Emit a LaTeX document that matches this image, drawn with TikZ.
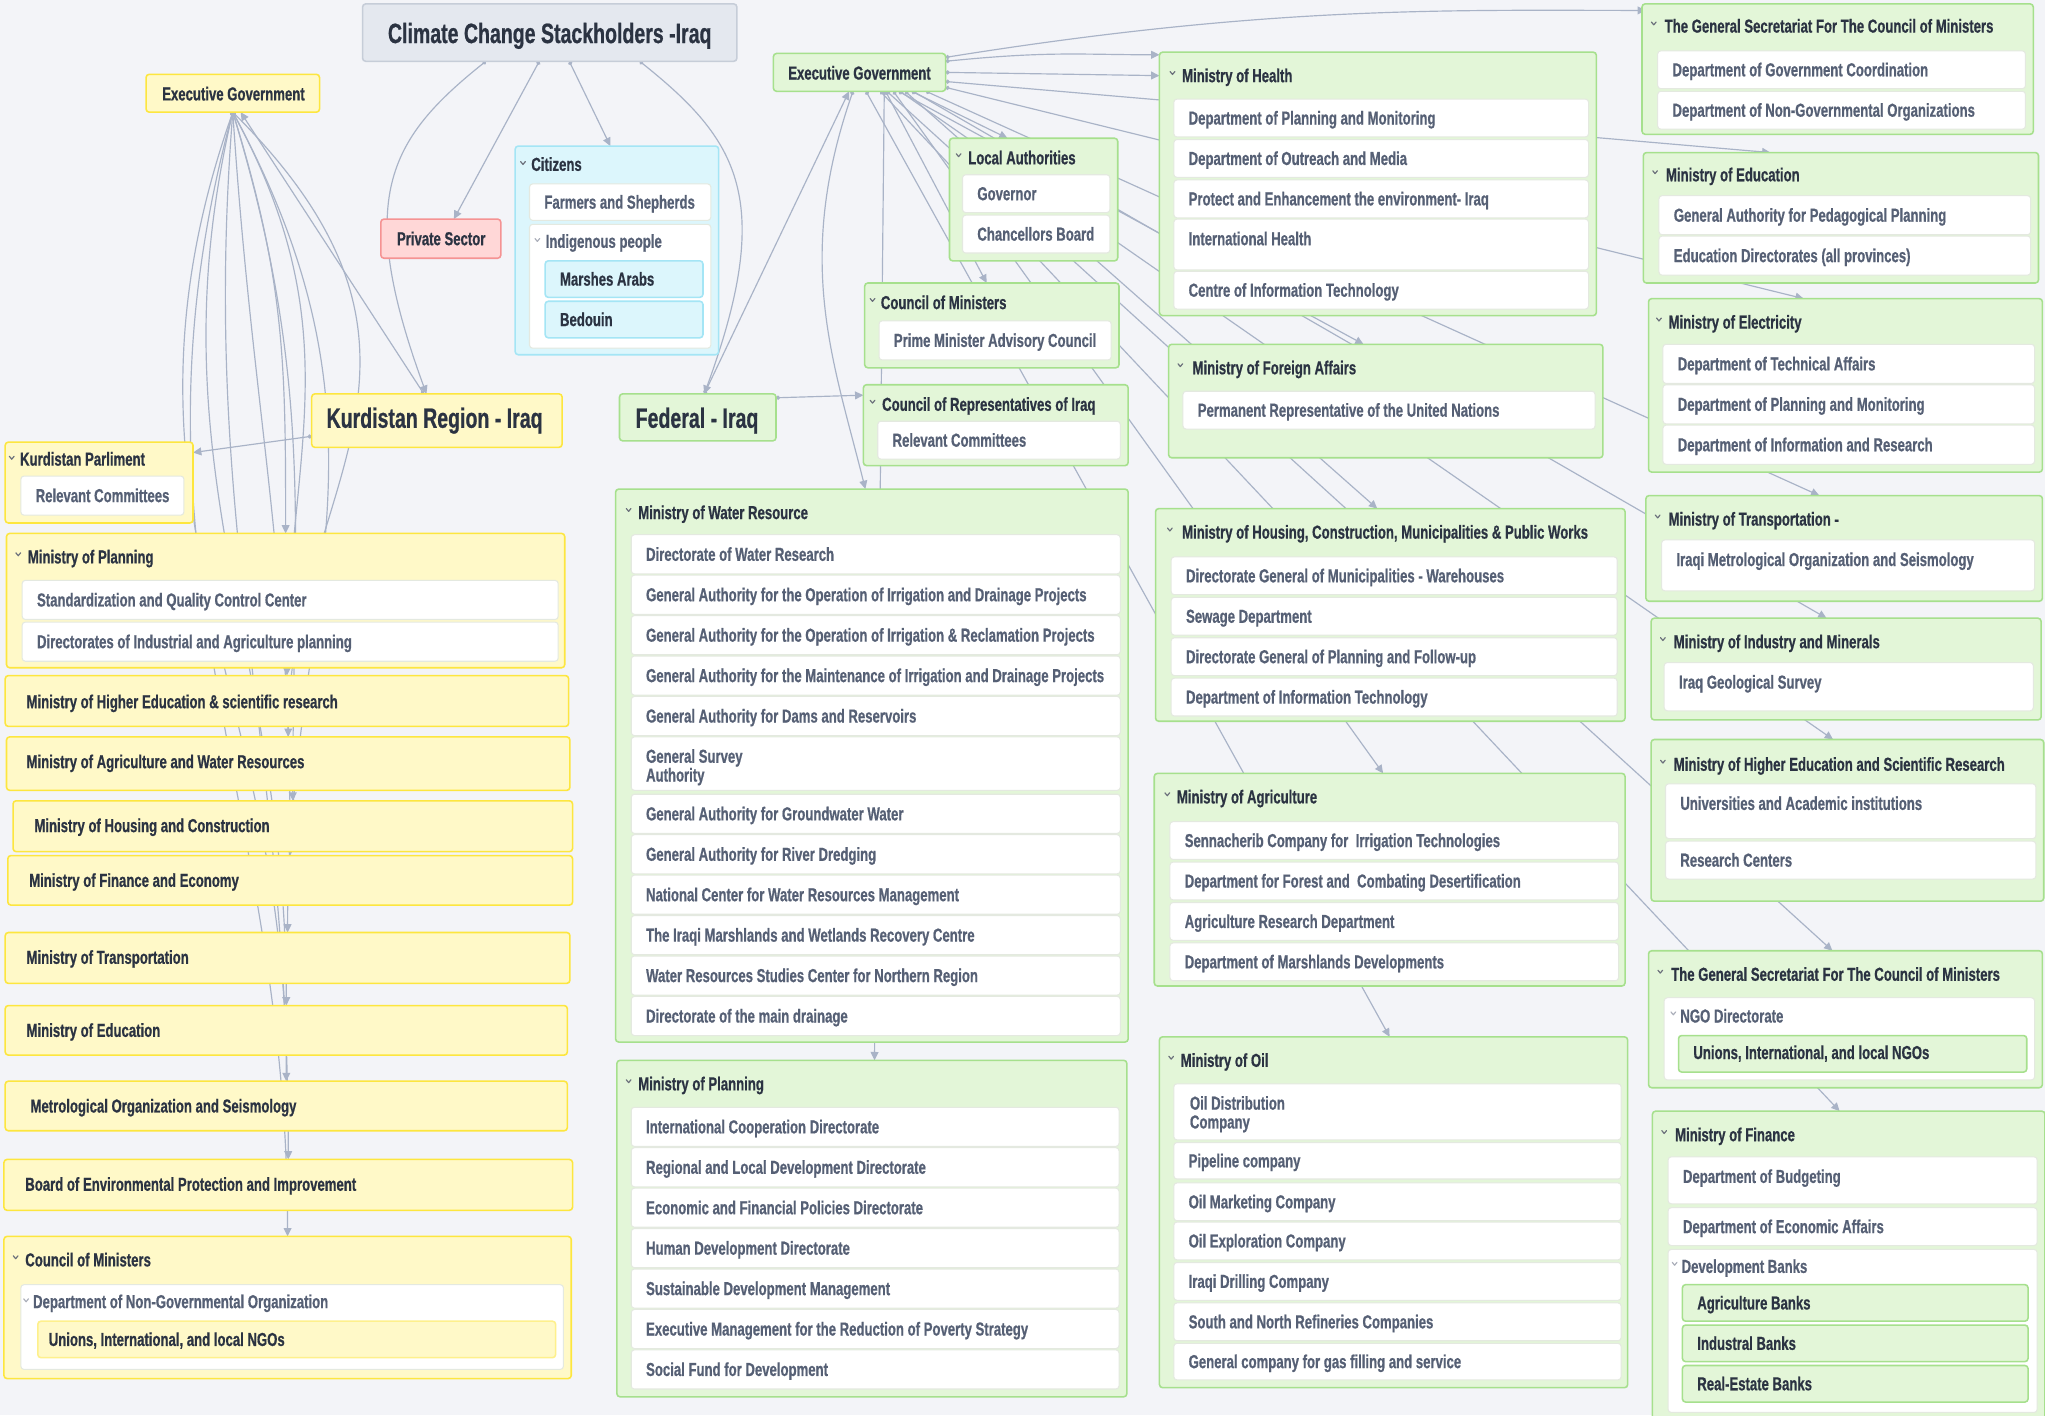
\documentclass[tikz,border=0pt]{standalone}
\usepackage{fontspec}
\setmainfont[FakeStretch=0.7,BoldFeatures={FakeBold=0.7}]{Liberation Sans}
\usetikzlibrary{arrows.meta,calc}
\definecolor{bg}{HTML}{F3F4F8}
\definecolor{ttfill}{HTML}{E4E8EF}
\definecolor{ttline}{HTML}{C6CDD8}
\definecolor{yfill}{HTML}{FFF9C8}
\definecolor{yline}{HTML}{FDE63F}
\definecolor{gfill}{HTML}{E3F6D8}
\definecolor{gline}{HTML}{A6E08D}
\definecolor{cfill}{HTML}{DCF6FC}
\definecolor{cline}{HTML}{A4E5F5}
\definecolor{rfill}{HTML}{FFD7D7}
\definecolor{rline}{HTML}{F59393}
\definecolor{wline}{HTML}{E4E9E0}
\definecolor{hdc}{HTML}{2B3342}
\definecolor{subc}{HTML}{566075}
\definecolor{wirec}{HTML}{A9B3C7}
\pgfdeclarelayer{back}
\pgfsetlayers{back,main}
\tikzset{
  boxbase/.style={rectangle,rounded corners=1.2pt,line width=0.6pt,inner sep=0pt,outer sep=0pt},
  ybox/.style={boxbase,draw=yline,fill=yfill},
  gbox/.style={boxbase,draw=gline,fill=gfill},
  cbox/.style={boxbase,draw=cline,fill=cfill},
  rbox/.style={boxbase,draw=rline,fill=rfill},
  wbox/.style={boxbase,draw=wline,fill=white,line width=0.4pt},
  tbox/.style={boxbase,draw=ttline,fill=ttfill},
  hd/.style={anchor=base west,inner sep=0pt,align=left,text=hdc,font=\bfseries\fontsize{7.2}{7.2}\selectfont},
  sub/.style={hd,text=subc},
  big/.style={hd,font=\bfseries\fontsize{10.7}{12}\selectfont},
  wire/.style={draw=wirec,line width=0.45pt,{Circle[length=1.6pt]}-{Triangle[length=3.2pt,width=3pt]}}
}
\newcommand\card[6]{\node[#2,anchor=north west,minimum width={(#5-#3)*0.5pt},minimum height={(#6-#4)*0.5pt}] (#1) at (#3,#4) {};}
\newcommand\kid[6]{\card{#1}{wbox}{#2}{#3}{#4}{#5}\node[sub] (#1t) at ({#2+11},{(#3+#5)/2+5}) {#6};}
\newcommand\kidtop[6]{\card{#1}{wbox}{#2}{#3}{#4}{#5}\node[sub] (#1t) at ({#2+11},{#3+20}) {#6};}
\newcommand\chev[3]{\draw[#3,line width=0.45pt,line cap=round,line join=round] ({#1-1.8},{#2-1.1}) -- (#1,{#2+1.1}) -- ({#1+1.8},{#2-1.1});}

\begin{document}
\begin{tikzpicture}[x=0.5pt,y=-0.5pt]
  \useasboundingbox (0,0) rectangle (1568,1085);
  \card{tt}{tbox}{278}{3}{565}{47}
  \node[big,anchor=base] (ttt) at (421.5,33) {Climate Change Stackholders -Iraq};
  \card{exL}{ybox}{112}{57}{245}{86}
  \node[hd] (exLt) at (124,77) {Executive Government};
  \card{ps}{rbox}{292}{168}{384}{198}
  \node[hd] (pst) at (304,188) {Private Sector};
  \card{cz}{cbox}{395}{112}{551}{272}
  \chev{401}{125}{hdc!70}
  \node[hd] (czt) at (407,131) {Citizens};
  \kid{cz1}{406}{141}{545}{169}{Farmers and Shepherds}
  \card{cz2}{wbox}{406}{172}{545}{267}
  \chev{412}{184}{subc!50}
  \node[sub] (cz2t) at (418,190) {Indigenous people};
  \card{cz21}{cbox}{418}{200}{539}{228}
  \node[hd] (cz21t) at (429,219) {Marshes Arabs};
  \card{cz22}{cbox}{418}{231}{539}{259}
  \node[hd] (cz22t) at (429,250) {Bedouin};
  \card{kr}{ybox}{239}{302}{431}{343}
  \node[big] (krt) at (250,328) {Kurdistan Region - Iraq};
  \card{fe}{gbox}{475}{302}{595}{338}
  \node[big] (fet) at (487,328) {Federal - Iraq};

  % Kurdistan side
  \card{kp}{ybox}{4}{339}{148}{401}
  \chev{9}{351}{hdc!70}
  \node[hd] (kpt) at (15,357) {Kurdistan Parliment};
  \kid{kp1}{16}{365}{141}{395}{Relevant Committees}
  \card{pl}{ybox}{5}{409}{433}{512}
  \chev{14}{425}{hdc!70}
  \node[hd] (plt) at (21,432) {Ministry of Planning};
  \kid{pl1}{17}{445}{428}{475}{Standardization and Quality Control Center}
  \kid{pl2}{17}{477}{428}{507}{Directorates of Industrial and Agriculture planning}
  \card{hel}{ybox}{4}{518}{436}{557}
  \node[hd] (helt) at (20,543) {Ministry of Higher Education \& scientific research};
  \card{agl}{ybox}{5}{565}{437}{606}
  \node[hd] (aglt) at (20,589) {Ministry of Agriculture and Water Resources};
  \card{hol}{ybox}{10}{614}{439}{653}
  \node[hd] (holt) at (26,638) {Ministry of Housing and Construction};
  \card{fil}{ybox}{6}{656}{439}{694}
  \node[hd] (filt) at (22,680) {Ministry of Finance and Economy};
  \card{trl}{ybox}{4}{715}{437}{754}
  \node[hd] (trlt) at (20,739) {Ministry of Transportation};
  \card{edl}{ybox}{4}{771}{435}{809}
  \node[hd] (edlt) at (20,795) {Ministry of Education};
  \card{mel}{ybox}{4}{829}{435}{867}
  \node[hd] (melt) at (23,853) {Metrological Organization and Seismology};
  \card{bol}{ybox}{3}{889}{439}{928}
  \node[hd] (bolt) at (19,913) {Board of Environmental Protection and Improvement};
  \card{cml}{ybox}{3}{948}{438}{1057}
  \chev{12}{964}{hdc!70}
  \node[hd] (cmlt) at (19,971) {Council of Ministers};
  \card{cml1}{wbox}{16}{985}{432}{1050}
  \chev{20}{997}{subc!50}
  \node[sub] (cml1t) at (25,1003) {Department of Non-Governmental Organization};
  \card{cml11}{ybox,draw=yline!60}{29}{1013}{426}{1041}
  \node[hd] (cml11t) at (37,1032) {Unions, International, and local NGOs};

  % federal side
  \card{exG}{gbox}{593}{41}{725}{70}
  \node[hd] (exGt) at (604,61) {Executive Government};
  \card{la}{gbox}{728}{106}{857}{200}
  \chev{735}{119}{hdc!70}
  \node[hd] (lat) at (742,126) {Local Authorities};
  \kid{la1}{738}{134}{851}{163}{Governor}
  \kid{la2}{738}{165}{851}{194}{Chancellors Board}
  \card{cmm}{gbox}{663}{217}{858}{282}
  \chev{669}{230}{hdc!70}
  \node[hd] (cmmt) at (675,237) {Council of Ministers};
  \kid{cmm1}{674}{246}{852}{276}{Prime Minister Advisory Council}
  \card{cr}{gbox}{662}{295}{865}{357}
  \chev{669}{308}{hdc!70}
  \node[hd] (crt) at (676,315) {Council of Representatives of Iraq};
  \kid{cr1}{673}{323}{859}{352}{Relevant Committees}
  \card{wr}{gbox}{472}{375}{865}{799}
  \chev{482}{391}{hdc!70}
  \node[hd] (wrt) at (489,398) {Ministry of Water Resource};
  \kid{wr1}{484}{410}{859}{440}{Directorate of Water Research}
  \kid{wr2}{484}{441}{859}{471}{General Authority for the Operation of Irrigation and Drainage Projects}
  \kid{wr3}{484}{472}{859}{502}{General Authority for the Operation of Irrigation \& Reclamation Projects}
  \kid{wr4}{484}{503}{859}{533}{General Authority for the Maintenance of Irrigation and Drainage Projects}
  \kid{wr5}{484}{534}{859}{564}{General Authority for Dams and Reservoirs}
  \card{wr6}{wbox}{484}{565}{859}{606}
  \node[sub,anchor=north west] (wr6t) at (495,574) {General Survey\\Authority};
  \kid{wr7}{484}{609}{859}{639}{General Authority for Groundwater Water}
  \kid{wr8}{484}{640}{859}{670}{General Authority for River Dredging}
  \kid{wr9}{484}{671}{859}{701}{National Center for Water Resources Management}
  \kid{wr10}{484}{702}{859}{732}{The Iraqi Marshlands and Wetlands Recovery Centre}
  \kid{wr11}{484}{733}{859}{763}{Water Resources Studies Center for Northern Region}
  \kid{wr12}{484}{764}{859}{794}{Directorate of the main drainage}
  \card{pm}{gbox}{473}{813}{864}{1071}
  \chev{482}{829}{hdc!70}
  \node[hd] (pmt) at (489,836) {Ministry of Planning};
  \kid{pm1}{484}{849}{858}{879}{International Cooperation Directorate}
  \kid{pm2}{484}{880}{858}{910}{Regional and Local Development Directorate}
  \kid{pm3}{484}{911}{858}{941}{Economic and Financial Policies Directorate}
  \kid{pm4}{484}{942}{858}{972}{Human Development Directorate}
  \kid{pm5}{484}{973}{858}{1003}{Sustainable Development Management}
  \kid{pm6}{484}{1004}{858}{1034}{Executive Management for the Reduction of Poverty Strategy}
  \kid{pm7}{484}{1035}{858}{1065}{Social Fund for Development}

  \card{mh}{gbox}{889}{40}{1224}{242}
  \chev{899}{56}{hdc!70}
  \node[hd] (mht) at (906,63) {Ministry of Health};
  \kid{mh1}{900}{76}{1218}{105}{Department of Planning and Monitoring}
  \kid{mh2}{900}{107}{1218}{136}{Department of Outreach and Media}
  \kid{mh3}{900}{138}{1218}{167}{Protect and Enhancement the environment- Iraq}
  \kidtop{mh4}{900}{168}{1218}{207}{International Health}
  \kid{mh5}{900}{208}{1218}{237}{Centre of Information Technology}
  \card{mfa}{gbox}{896}{264}{1229}{351}
  \chev{905}{280}{hdc!70}
  \node[hd] (mfat) at (914,287) {Ministry of Foreign Affairs};
  \kid{mfa1}{907}{300}{1223}{329}{Permanent Representative of the United Nations}
  \card{mhc}{gbox}{886}{390}{1246}{553}
  \chev{897}{406}{hdc!70}
  \node[hd] (mhct) at (906,413) {Ministry of Housing, Construction, Municipalities \& Public Works};
  \kid{mhc1}{898}{427}{1240}{456}{Directorate General of Municipalities - Warehouses}
  \kid{mhc2}{898}{458}{1240}{487}{Sewage Department}
  \kid{mhc3}{898}{489}{1240}{518}{Directorate General of Planning and Follow-up}
  \kid{mhc4}{898}{520}{1240}{549}{Department of Information Technology}
  \card{mag}{gbox}{885}{593}{1246}{756}
  \chev{895}{609}{hdc!70}
  \node[hd] (magt) at (902,616) {Ministry of Agriculture};
  \kid{mag1}{897}{630}{1241}{659}{Sennacherib Company for\ \ Irrigation Technologies}
  \kid{mag2}{897}{661}{1241}{690}{Department for Forest and\ \ Combating Desertification}
  \kid{mag3}{897}{692}{1241}{721}{Agriculture Research Department}
  \kid{mag4}{897}{723}{1241}{752}{Department of Marshlands Developments}
  \card{mo}{gbox}{889}{795}{1248}{1064}
  \chev{898}{811}{hdc!70}
  \node[hd] (mot) at (905,818) {Ministry of Oil};
  \card{mo1}{wbox}{900}{831}{1243}{874}
  \node[sub,anchor=north west] (mo1t) at (912,840) {Oil Distribution\\Company};
  \kid{mo2}{900}{876}{1243}{904}{Pipeline company}
  \kid{mo3}{900}{907}{1243}{936}{Oil Marketing Company}
  \kid{mo4}{900}{937}{1243}{966}{Oil Exploration Company}
  \kid{mo5}{900}{968}{1243}{997}{Iraqi Drilling Company}
  \kid{mo6}{900}{999}{1243}{1028}{South and North Refineries Companies}
  \kid{mo7}{900}{1030}{1243}{1058}{General company for gas filling and service}

  \card{gs1}{gbox}{1259}{3}{1559}{103}
  \chev{1268}{18}{hdc!70}
  \node[hd] (gs1t) at (1276,25) {The General Secretariat For The Council of Ministers};
  \kid{gs11}{1271}{39}{1553}{68}{Department of Government Coordination}
  \kid{gs12}{1271}{70}{1553}{99}{Department of Non-Governmental Organizations}
  \card{med}{gbox}{1260}{117}{1563}{217}
  \chev{1269}{132}{hdc!70}
  \node[hd] (medt) at (1277,139) {Ministry of Education};
  \kid{med1}{1272}{150}{1557}{180}{General Authority for Pedagogical Planning}
  \kid{med2}{1272}{181}{1557}{211}{Education Directorates (all provinces)}
  \card{mec}{gbox}{1264}{229}{1566}{362}
  \chev{1272}{245}{hdc!70}
  \node[hd] (mect) at (1279,252) {Ministry of Electricity};
  \kid{mec1}{1275}{264}{1560}{294}{Department of Technical Affairs}
  \kid{mec2}{1275}{295}{1560}{325}{Department of Planning and Monitoring}
  \kid{mec3}{1275}{326}{1560}{356}{Department of Information and Research}
  \card{mtr}{gbox}{1262}{380}{1566}{461}
  \chev{1271}{396}{hdc!70}
  \node[hd] (mtrt) at (1279,403) {Ministry of Transportation -};
  \kidtop{mtr1}{1274}{414}{1560}{453}{Iraqi Metrological Organization and Seismology}
  \card{mim}{gbox}{1266}{474}{1565}{552}
  \chev{1275}{490}{hdc!70}
  \node[hd] (mimt) at (1283,497) {Ministry of Industry and Minerals};
  \kidtop{mim1}{1276}{508}{1559}{545}{Iraq Geological Survey}
  \card{mhe}{gbox}{1266}{567}{1567}{691}
  \chev{1275}{584}{hdc!70}
  \node[hd] (mhet) at (1283,591) {Ministry of Higher Education and Scientific Research};
  \kidtop{mhe1}{1277}{601}{1561}{643}{Universities and Academic institutions}
  \kid{mhe2}{1277}{645}{1561}{674}{Research Centers}
  \card{gs2}{gbox}{1264}{729}{1566}{834}
  \chev{1273}{745}{hdc!70}
  \node[hd] (gs2t) at (1281,752) {The General Secretariat For The Council of Ministers};
  \card{gs21}{wbox}{1276}{765}{1560}{828}
  \chev{1283}{777}{subc!50}
  \node[sub] (gs21t) at (1288,784) {NGO Directorate};
  \card{gs211}{gbox}{1287}{794}{1554}{822}
  \node[hd] (gs211t) at (1298,812) {Unions, International, and local NGOs};
  \card{mf}{gbox}{1267}{852}{1568}{1095}
  \chev{1276}{868}{hdc!70}
  \node[hd] (mft) at (1284,875) {Ministry of Finance};
  \kidtop{mf1}{1279}{887}{1562}{923}{Department of Budgeting}
  \kid{mf2}{1279}{926}{1562}{955}{Department of Economic Affairs}
  \card{mf3}{wbox}{1279}{958}{1562}{1083}
  \chev{1284}{969}{subc!50}
  \node[sub] (mf3t) at (1289,976) {Development Banks};
  \card{mf31}{gbox}{1290}{985}{1555}{1013}
  \node[hd] (mf31t) at (1301,1004) {Agriculture Banks};
  \card{mf32}{gbox}{1290}{1016}{1555}{1044}
  \node[hd] (mf32t) at (1301,1035) {Industral Banks};
  \card{mf33}{gbox}{1290}{1047}{1555}{1075}
  \node[hd] (mf33t) at (1301,1066) {Real-Estate Banks};

  \begin{pgfonlayer}{back}
    \fill[bg] (0,0) rectangle (1568,1085);
    \draw[wire] ($(tt.south)+(-49,0)$) .. controls +(-75,60) and +(-55,-150) .. ($(kr.north)+(-8,0)$);
    \draw[wire] ($(tt.south)+(-8,0)$) -- ($(ps.north)+(10,0)$);
    \draw[wire] ($(tt.south)+(15,0)$) -- ($(cz.north)+(-5,0)$);
    \draw[wire] ($(tt.south)+(69,0)$) .. controls +(75,60) and +(55,-150) .. ($(fe.north)+(5,0)$);
    \draw[wire] ($(kr.north)+(-10,0)$) -- ($(exL.south)+(6,0)$);
    \draw[wire] ($(kr.west)+(0,12)$) -- ($(kp.north east)+(0,8)$);
    \draw[wire] ($(fe.north)+(5,0)$) -- ($(exG.south)+(-8,0)$);
    \draw[wire] ($(fe.east)+(0,-15)$) -- ($(cr.north west)+(0,8)$);
    \foreach \t/\c/\d in {pl/40/130, hel/92/170, agl/190/190, hol/63/210, fil/15/230,
                          trl/135/250, edl/-63/270, mel/-105/300, bol/-25/320, cml/-92/340}
      \draw[wire] (exL.south) .. controls +(\c,\d) and +(0,-\d) .. (\t.north);
    \draw[wire] ($(exG.north east)+(0,3)$) .. controls +(250,-40) and +(-150,0) .. ($(gs1.north west)+(3,5)$);
    \draw[wire] ($(exG.north east)+(0,6)$) .. controls +(80,-8) and +(-60,0) .. ($(mh.north west)+(0,2)$);
    \draw[wire] ($(exG.east)+(0,0)$) -- ($(mh.north west)+(0,18)$);
    \draw[wire] ($(exG.east)+(0,7)$) -- ($(med.north)+(-54,0)$);
    \draw[wire] ($(exG.south east)+(0,-3)$) -- ($(mec.north)+(-32,0)$);
    \draw[wire] ($(exG.south east)+(-15,0)$) -- ($(mtr.north)+(-19,0)$);
    \draw[wire] ($(exG.south east)+(-25,0)$) -- ($(mim.north)+(-15,0)$);
    \draw[wire] ($(exG.south east)+(-35,0)$) -- ($(mhe.north)+(-11,0)$);
    \draw[wire] ($(exG.south east)+(-45,0)$) -- ($(gs2.north)+(-10,0)$);
    \draw[wire] ($(exG.south east)+(-50,0)$) -- ($(mf.north)+(-7,0)$);
    \draw[wire] ($(exG.south)+(40,0)$) -- ($(la.north)+(-20,0)$);
    \draw[wire] ($(exG.south)+(20,0)$) -- ($(cmm.north)+(-4,0)$);
    \draw[wire] ($(exG.south)+(30,0)$) -- ($(mfa.north)+(-17,0)$);
    \draw[wire] ($(exG.south)+(35,0)$) -- ($(mhc.north)+(-10,0)$);
    \draw[wire] ($(exG.south)+(26,0)$) -- ($(mag.north)+(-5,0)$);
    \draw[wire] ($(exG.south)+(5,0)$) -- ($(mo.north)+(-3,0)$);
    \draw[wire] ($(exG.south)+(-5,0)$) .. controls +(-45,130) and +(-25,-100) .. ($(wr.north)+(-5,0)$);
    \draw[wire] ($(exG.south)+(19,0)$) -- ($(pm.north)+(2,0)$);
  \end{pgfonlayer}
\end{tikzpicture}
\end{document}
